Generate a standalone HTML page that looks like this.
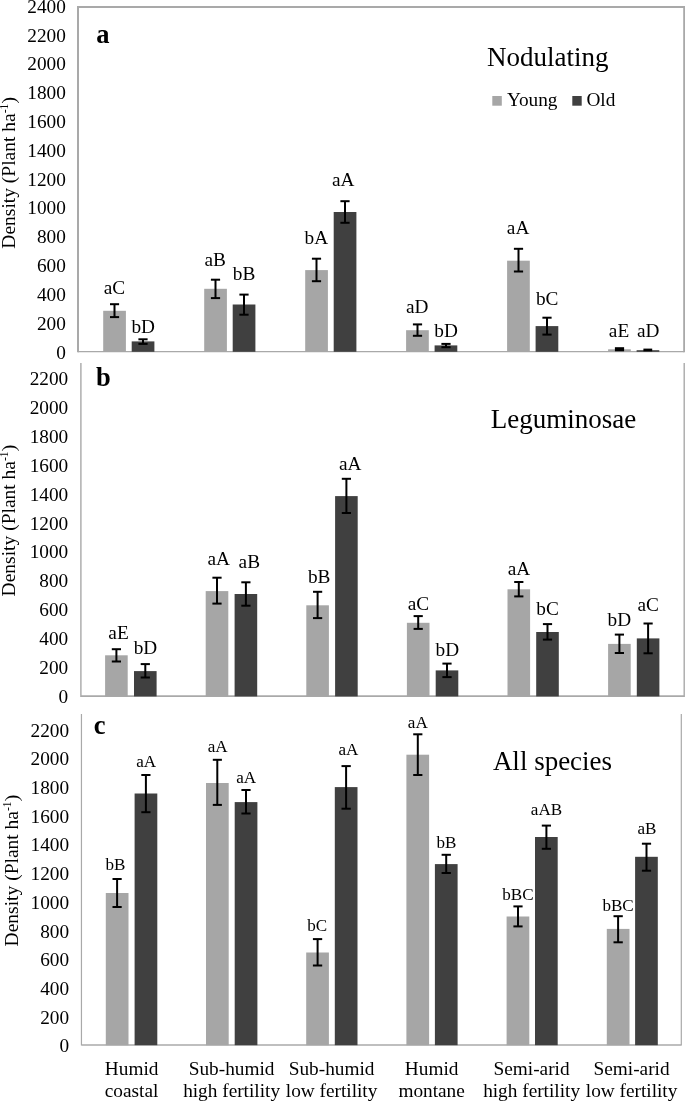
<!DOCTYPE html>
<html lang="en"><head><meta charset="utf-8"><title>Density chart</title>
<style>
html,body{margin:0;padding:0;background:#fff;}
body{width:685px;height:1101px;overflow:hidden;}
svg{display:block;will-change:transform;font-family:"Liberation Serif","Times New Roman",serif;fill:#000;}
</style></head><body>
<svg width="685" height="1101" viewBox="0 0 685 1101">
<rect width="685" height="1101" fill="#fff"/>
<path d="M81.45 714.0V1045.0H681.3V714.0" fill="none" stroke="#a9a9a9" stroke-width="1.2"/>
<text x="69.1" y="736.7" font-size="19.3" text-anchor="end">2200</text>
<text x="69.1" y="765.4" font-size="19.3" text-anchor="end">2000</text>
<text x="69.1" y="794.1" font-size="19.3" text-anchor="end">1800</text>
<text x="69.1" y="822.7" font-size="19.3" text-anchor="end">1600</text>
<text x="69.1" y="851.4" font-size="19.3" text-anchor="end">1400</text>
<text x="69.1" y="880.1" font-size="19.3" text-anchor="end">1200</text>
<text x="69.1" y="908.8" font-size="19.3" text-anchor="end">1000</text>
<text x="69.1" y="937.5" font-size="19.3" text-anchor="end">800</text>
<text x="69.1" y="966.1" font-size="19.3" text-anchor="end">600</text>
<text x="69.1" y="994.8" font-size="19.3" text-anchor="end">400</text>
<text x="69.1" y="1023.5" font-size="19.3" text-anchor="end">200</text>
<text x="69.1" y="1052.2" font-size="19.3" text-anchor="end">0</text>
<text transform="translate(17.9,870.6) rotate(-90)" font-size="19.5" text-anchor="middle">Density (Plant ha<tspan font-size="11.6" dy="-7.2">-1</tspan><tspan dy="7.2">)</tspan></text>
<line x1="81.5" y1="1045.0" x2="681.3" y2="1045.0" stroke="#a9a9a9" stroke-width="1.2"/>
<rect x="105.8" y="893.0" width="22.7" height="152.2" fill="#a6a6a6"/>
<rect x="134.6" y="793.5" width="22.7" height="251.7" fill="#404040"/>
<rect x="206.0" y="783.0" width="22.7" height="262.2" fill="#a6a6a6"/>
<rect x="234.7" y="802.1" width="22.7" height="243.1" fill="#404040"/>
<rect x="306.2" y="952.5" width="22.7" height="92.7" fill="#a6a6a6"/>
<rect x="334.8" y="787.1" width="22.7" height="258.1" fill="#404040"/>
<rect x="406.4" y="754.7" width="22.7" height="290.5" fill="#a6a6a6"/>
<rect x="434.9" y="864.1" width="22.7" height="181.1" fill="#404040"/>
<rect x="506.6" y="916.5" width="22.7" height="128.7" fill="#a6a6a6"/>
<rect x="535.0" y="837.0" width="22.7" height="208.2" fill="#404040"/>
<rect x="606.8" y="928.9" width="22.7" height="116.3" fill="#a6a6a6"/>
<rect x="635.1" y="856.8" width="22.7" height="188.4" fill="#404040"/>
<line x1="117.1" y1="879.0" x2="117.1" y2="907.0" stroke="#000" stroke-width="2"/>
<line x1="112.5" y1="879.0" x2="121.7" y2="879.0" stroke="#000" stroke-width="2"/>
<line x1="112.5" y1="907.0" x2="121.7" y2="907.0" stroke="#000" stroke-width="2"/>
<line x1="145.9" y1="775.0" x2="145.9" y2="812.2" stroke="#000" stroke-width="2"/>
<line x1="141.3" y1="775.0" x2="150.5" y2="775.0" stroke="#000" stroke-width="2"/>
<line x1="141.3" y1="812.2" x2="150.5" y2="812.2" stroke="#000" stroke-width="2"/>
<text x="115.5" y="870.1" font-size="17.1" text-anchor="middle">bB</text>
<text x="146.1" y="767.4" font-size="17.1" text-anchor="middle">aA</text>
<line x1="217.3" y1="759.8" x2="217.3" y2="804.9" stroke="#000" stroke-width="2"/>
<line x1="212.8" y1="759.8" x2="221.9" y2="759.8" stroke="#000" stroke-width="2"/>
<line x1="212.8" y1="804.9" x2="221.9" y2="804.9" stroke="#000" stroke-width="2"/>
<line x1="246.0" y1="790.0" x2="246.0" y2="813.5" stroke="#000" stroke-width="2"/>
<line x1="241.4" y1="790.0" x2="250.6" y2="790.0" stroke="#000" stroke-width="2"/>
<line x1="241.4" y1="813.5" x2="250.6" y2="813.5" stroke="#000" stroke-width="2"/>
<text x="217.6" y="751.8" font-size="17.1" text-anchor="middle">aA</text>
<text x="246.2" y="783.3" font-size="17.1" text-anchor="middle">aA</text>
<line x1="317.6" y1="939.1" x2="317.6" y2="965.5" stroke="#000" stroke-width="2"/>
<line x1="312.9" y1="939.1" x2="322.2" y2="939.1" stroke="#000" stroke-width="2"/>
<line x1="312.9" y1="965.5" x2="322.2" y2="965.5" stroke="#000" stroke-width="2"/>
<line x1="346.1" y1="766.1" x2="346.1" y2="808.7" stroke="#000" stroke-width="2"/>
<line x1="341.5" y1="766.1" x2="350.8" y2="766.1" stroke="#000" stroke-width="2"/>
<line x1="341.5" y1="808.7" x2="350.8" y2="808.7" stroke="#000" stroke-width="2"/>
<text x="317.3" y="931.2" font-size="17.1" text-anchor="middle">bC</text>
<text x="348.4" y="754.7" font-size="17.1" text-anchor="middle">aA</text>
<line x1="417.8" y1="734.3" x2="417.8" y2="775.0" stroke="#000" stroke-width="2"/>
<line x1="413.2" y1="734.3" x2="422.4" y2="734.3" stroke="#000" stroke-width="2"/>
<line x1="413.2" y1="775.0" x2="422.4" y2="775.0" stroke="#000" stroke-width="2"/>
<line x1="446.2" y1="854.8" x2="446.2" y2="873.0" stroke="#000" stroke-width="2"/>
<line x1="441.6" y1="854.8" x2="450.9" y2="854.8" stroke="#000" stroke-width="2"/>
<line x1="441.6" y1="873.0" x2="450.9" y2="873.0" stroke="#000" stroke-width="2"/>
<text x="417.8" y="728.0" font-size="17.1" text-anchor="middle">aA</text>
<text x="446.4" y="847.9" font-size="17.1" text-anchor="middle">bB</text>
<line x1="518.0" y1="906.4" x2="518.0" y2="926.4" stroke="#000" stroke-width="2"/>
<line x1="513.4" y1="906.4" x2="522.6" y2="906.4" stroke="#000" stroke-width="2"/>
<line x1="513.4" y1="926.4" x2="522.6" y2="926.4" stroke="#000" stroke-width="2"/>
<line x1="546.4" y1="825.6" x2="546.4" y2="848.8" stroke="#000" stroke-width="2"/>
<line x1="541.8" y1="825.6" x2="551.0" y2="825.6" stroke="#000" stroke-width="2"/>
<line x1="541.8" y1="848.8" x2="551.0" y2="848.8" stroke="#000" stroke-width="2"/>
<text x="517.9" y="900.3" font-size="17.1" text-anchor="middle">bBC</text>
<text x="546.5" y="815.1" font-size="17.1" text-anchor="middle">aAB</text>
<line x1="618.1" y1="916.2" x2="618.1" y2="942.3" stroke="#000" stroke-width="2"/>
<line x1="613.5" y1="916.2" x2="622.8" y2="916.2" stroke="#000" stroke-width="2"/>
<line x1="613.5" y1="942.3" x2="622.8" y2="942.3" stroke="#000" stroke-width="2"/>
<line x1="646.5" y1="843.7" x2="646.5" y2="870.7" stroke="#000" stroke-width="2"/>
<line x1="641.9" y1="843.7" x2="651.1" y2="843.7" stroke="#000" stroke-width="2"/>
<line x1="641.9" y1="870.7" x2="651.1" y2="870.7" stroke="#000" stroke-width="2"/>
<text x="618.1" y="910.8" font-size="17.1" text-anchor="middle">bBC</text>
<text x="646.9" y="834.2" font-size="17.1" text-anchor="middle">aB</text>
<text x="93.8" y="733.8" font-size="26.5" text-anchor="start" font-weight="bold">c</text>
<text x="552.5" y="770.0" font-size="27" text-anchor="middle">All species</text>
<path d="M80.9 363.0V696.2H684.2V363.0" fill="none" stroke="#a9a9a9" stroke-width="1.4"/>
<text x="68.2" y="385.2" font-size="19.3" text-anchor="end">2200</text>
<text x="68.2" y="414.1" font-size="19.3" text-anchor="end">2000</text>
<text x="68.2" y="442.9" font-size="19.3" text-anchor="end">1800</text>
<text x="68.2" y="471.8" font-size="19.3" text-anchor="end">1600</text>
<text x="68.2" y="500.6" font-size="19.3" text-anchor="end">1400</text>
<text x="68.2" y="529.5" font-size="19.3" text-anchor="end">1200</text>
<text x="68.2" y="558.3" font-size="19.3" text-anchor="end">1000</text>
<text x="68.2" y="587.1" font-size="19.3" text-anchor="end">800</text>
<text x="68.2" y="616.0" font-size="19.3" text-anchor="end">600</text>
<text x="68.2" y="644.9" font-size="19.3" text-anchor="end">400</text>
<text x="68.2" y="673.7" font-size="19.3" text-anchor="end">200</text>
<text x="68.2" y="702.5" font-size="19.3" text-anchor="end">0</text>
<text transform="translate(15.1,520.6) rotate(-90)" font-size="19.5" text-anchor="middle">Density (Plant ha<tspan font-size="11.6" dy="-7.2">-1</tspan><tspan dy="7.2">)</tspan></text>
<line x1="80.9" y1="696.2" x2="684.2" y2="696.2" stroke="#a9a9a9" stroke-width="1.4"/>
<rect x="105.1" y="655.3" width="22.6" height="41.1" fill="#a6a6a6"/>
<rect x="134.0" y="671.1" width="22.6" height="25.3" fill="#404040"/>
<rect x="205.7" y="591.1" width="22.6" height="105.3" fill="#a6a6a6"/>
<rect x="234.6" y="594.0" width="22.6" height="102.4" fill="#404040"/>
<rect x="306.3" y="605.3" width="22.6" height="91.1" fill="#a6a6a6"/>
<rect x="335.1" y="496.1" width="22.6" height="200.3" fill="#404040"/>
<rect x="406.9" y="622.8" width="22.6" height="73.6" fill="#a6a6a6"/>
<rect x="435.7" y="670.4" width="22.6" height="26.0" fill="#404040"/>
<rect x="507.5" y="589.3" width="22.6" height="107.1" fill="#a6a6a6"/>
<rect x="536.2" y="632.0" width="22.6" height="64.4" fill="#404040"/>
<rect x="608.1" y="643.9" width="22.6" height="52.5" fill="#a6a6a6"/>
<rect x="636.8" y="638.4" width="22.6" height="58.0" fill="#404040"/>
<line x1="116.4" y1="649.2" x2="116.4" y2="661.5" stroke="#000" stroke-width="2"/>
<line x1="111.8" y1="649.2" x2="121.0" y2="649.2" stroke="#000" stroke-width="2"/>
<line x1="111.8" y1="661.5" x2="121.0" y2="661.5" stroke="#000" stroke-width="2"/>
<line x1="145.3" y1="664.1" x2="145.3" y2="677.5" stroke="#000" stroke-width="2"/>
<line x1="140.7" y1="664.1" x2="149.9" y2="664.1" stroke="#000" stroke-width="2"/>
<line x1="140.7" y1="677.5" x2="149.9" y2="677.5" stroke="#000" stroke-width="2"/>
<text x="118.5" y="638.7" font-size="19.3" text-anchor="middle">aE</text>
<text x="145.5" y="654.2" font-size="19.3" text-anchor="middle">bD</text>
<line x1="217.0" y1="577.7" x2="217.0" y2="603.6" stroke="#000" stroke-width="2"/>
<line x1="212.4" y1="577.7" x2="221.6" y2="577.7" stroke="#000" stroke-width="2"/>
<line x1="212.4" y1="603.6" x2="221.6" y2="603.6" stroke="#000" stroke-width="2"/>
<line x1="245.9" y1="582.3" x2="245.9" y2="605.7" stroke="#000" stroke-width="2"/>
<line x1="241.3" y1="582.3" x2="250.5" y2="582.3" stroke="#000" stroke-width="2"/>
<line x1="241.3" y1="605.7" x2="250.5" y2="605.7" stroke="#000" stroke-width="2"/>
<text x="218.8" y="564.8" font-size="19.3" text-anchor="middle">aA</text>
<text x="249.3" y="567.7" font-size="19.3" text-anchor="middle">aB</text>
<line x1="317.6" y1="591.8" x2="317.6" y2="618.1" stroke="#000" stroke-width="2"/>
<line x1="313.0" y1="591.8" x2="322.2" y2="591.8" stroke="#000" stroke-width="2"/>
<line x1="313.0" y1="618.1" x2="322.2" y2="618.1" stroke="#000" stroke-width="2"/>
<line x1="346.4" y1="478.8" x2="346.4" y2="513.0" stroke="#000" stroke-width="2"/>
<line x1="341.8" y1="478.8" x2="351.0" y2="478.8" stroke="#000" stroke-width="2"/>
<line x1="341.8" y1="513.0" x2="351.0" y2="513.0" stroke="#000" stroke-width="2"/>
<text x="319.2" y="583.1" font-size="19.3" text-anchor="middle">bB</text>
<text x="350.2" y="470.1" font-size="19.3" text-anchor="middle">aA</text>
<line x1="418.2" y1="616.1" x2="418.2" y2="628.9" stroke="#000" stroke-width="2"/>
<line x1="413.6" y1="616.1" x2="422.8" y2="616.1" stroke="#000" stroke-width="2"/>
<line x1="413.6" y1="628.9" x2="422.8" y2="628.9" stroke="#000" stroke-width="2"/>
<line x1="447.0" y1="663.6" x2="447.0" y2="677.1" stroke="#000" stroke-width="2"/>
<line x1="442.4" y1="663.6" x2="451.6" y2="663.6" stroke="#000" stroke-width="2"/>
<line x1="442.4" y1="677.1" x2="451.6" y2="677.1" stroke="#000" stroke-width="2"/>
<text x="418.4" y="609.9" font-size="19.3" text-anchor="middle">aC</text>
<text x="447.3" y="656.1" font-size="19.3" text-anchor="middle">bD</text>
<line x1="518.8" y1="582.0" x2="518.8" y2="596.4" stroke="#000" stroke-width="2"/>
<line x1="514.2" y1="582.0" x2="523.4" y2="582.0" stroke="#000" stroke-width="2"/>
<line x1="514.2" y1="596.4" x2="523.4" y2="596.4" stroke="#000" stroke-width="2"/>
<line x1="547.5" y1="624.1" x2="547.5" y2="639.6" stroke="#000" stroke-width="2"/>
<line x1="542.9" y1="624.1" x2="552.1" y2="624.1" stroke="#000" stroke-width="2"/>
<line x1="542.9" y1="639.6" x2="552.1" y2="639.6" stroke="#000" stroke-width="2"/>
<text x="519.0" y="574.5" font-size="19.3" text-anchor="middle">aA</text>
<text x="547.5" y="614.7" font-size="19.3" text-anchor="middle">bC</text>
<line x1="619.4" y1="634.6" x2="619.4" y2="653.0" stroke="#000" stroke-width="2"/>
<line x1="614.8" y1="634.6" x2="624.0" y2="634.6" stroke="#000" stroke-width="2"/>
<line x1="614.8" y1="653.0" x2="624.0" y2="653.0" stroke="#000" stroke-width="2"/>
<line x1="648.1" y1="623.5" x2="648.1" y2="653.3" stroke="#000" stroke-width="2"/>
<line x1="643.5" y1="623.5" x2="652.7" y2="623.5" stroke="#000" stroke-width="2"/>
<line x1="643.5" y1="653.3" x2="652.7" y2="653.3" stroke="#000" stroke-width="2"/>
<text x="619.3" y="625.5" font-size="19.3" text-anchor="middle">bD</text>
<text x="648.2" y="610.9" font-size="19.3" text-anchor="middle">aC</text>
<text x="96.0" y="386.3" font-size="26.5" text-anchor="start" font-weight="bold">b</text>
<text x="563.4" y="427.6" font-size="27" text-anchor="middle">Leguminosae</text>
<rect x="78.0" y="7.0" width="606.2" height="344.6" fill="#fff"/>
<line x1="78.0" y1="6.0" x2="78.0" y2="352.2" stroke="#a9a9a9" stroke-width="2"/>
<line x1="77.0" y1="7.0" x2="685.2" y2="7.0" stroke="#a9a9a9" stroke-width="2"/>
<line x1="684.2" y1="6.0" x2="684.2" y2="352.2" stroke="#a9a9a9" stroke-width="2"/>
<text x="65.8" y="12.7" font-size="19.3" text-anchor="end">2400</text>
<text x="65.8" y="41.5" font-size="19.3" text-anchor="end">2200</text>
<text x="65.8" y="70.3" font-size="19.3" text-anchor="end">2000</text>
<text x="65.8" y="99.1" font-size="19.3" text-anchor="end">1800</text>
<text x="65.8" y="127.9" font-size="19.3" text-anchor="end">1600</text>
<text x="65.8" y="156.8" font-size="19.3" text-anchor="end">1400</text>
<text x="65.8" y="185.6" font-size="19.3" text-anchor="end">1200</text>
<text x="65.8" y="214.4" font-size="19.3" text-anchor="end">1000</text>
<text x="65.8" y="243.2" font-size="19.3" text-anchor="end">800</text>
<text x="65.8" y="272.0" font-size="19.3" text-anchor="end">600</text>
<text x="65.8" y="300.8" font-size="19.3" text-anchor="end">400</text>
<text x="65.8" y="329.7" font-size="19.3" text-anchor="end">200</text>
<text x="65.8" y="358.5" font-size="19.3" text-anchor="end">0</text>
<text transform="translate(14.9,172.9) rotate(-90)" font-size="19.5" text-anchor="middle">Density (Plant ha<tspan font-size="11.6" dy="-7.2">-1</tspan><tspan dy="7.2">)</tspan></text>
<line x1="78.0" y1="351.6" x2="684.2" y2="351.6" stroke="#a9a9a9" stroke-width="1.3"/>
<rect x="103.2" y="310.8" width="22.7" height="41.0" fill="#a6a6a6"/>
<rect x="131.7" y="341.4" width="22.7" height="10.4" fill="#404040"/>
<rect x="204.2" y="288.8" width="22.7" height="63.0" fill="#a6a6a6"/>
<rect x="232.7" y="304.5" width="22.7" height="47.3" fill="#404040"/>
<rect x="305.2" y="270.1" width="22.7" height="81.7" fill="#a6a6a6"/>
<rect x="333.7" y="212.0" width="22.7" height="139.8" fill="#404040"/>
<rect x="406.1" y="330.2" width="22.7" height="21.6" fill="#a6a6a6"/>
<rect x="434.6" y="345.4" width="22.7" height="6.4" fill="#404040"/>
<rect x="507.1" y="260.7" width="22.7" height="91.1" fill="#a6a6a6"/>
<rect x="535.6" y="326.1" width="22.7" height="25.7" fill="#404040"/>
<rect x="608.1" y="349.3" width="22.7" height="2.5" fill="#a6a6a6"/>
<rect x="636.6" y="350.2" width="22.7" height="1.6" fill="#404040"/>
<line x1="114.5" y1="304.2" x2="114.5" y2="317.1" stroke="#000" stroke-width="2"/>
<line x1="110.0" y1="304.2" x2="119.1" y2="304.2" stroke="#000" stroke-width="2"/>
<line x1="110.0" y1="317.1" x2="119.1" y2="317.1" stroke="#000" stroke-width="2"/>
<line x1="143.0" y1="339.3" x2="143.0" y2="343.9" stroke="#000" stroke-width="2"/>
<line x1="138.4" y1="339.3" x2="147.6" y2="339.3" stroke="#000" stroke-width="2"/>
<line x1="138.4" y1="343.9" x2="147.6" y2="343.9" stroke="#000" stroke-width="2"/>
<text x="114.4" y="294.2" font-size="19.3" text-anchor="middle">aC</text>
<text x="143.2" y="333.1" font-size="19.3" text-anchor="middle">bD</text>
<line x1="215.5" y1="279.7" x2="215.5" y2="298.1" stroke="#000" stroke-width="2"/>
<line x1="210.9" y1="279.7" x2="220.1" y2="279.7" stroke="#000" stroke-width="2"/>
<line x1="210.9" y1="298.1" x2="220.1" y2="298.1" stroke="#000" stroke-width="2"/>
<line x1="244.0" y1="294.6" x2="244.0" y2="314.7" stroke="#000" stroke-width="2"/>
<line x1="239.4" y1="294.6" x2="248.6" y2="294.6" stroke="#000" stroke-width="2"/>
<line x1="239.4" y1="314.7" x2="248.6" y2="314.7" stroke="#000" stroke-width="2"/>
<text x="215.1" y="265.7" font-size="19.3" text-anchor="middle">aB</text>
<text x="244.0" y="279.7" font-size="19.3" text-anchor="middle">bB</text>
<line x1="316.5" y1="258.7" x2="316.5" y2="281.2" stroke="#000" stroke-width="2"/>
<line x1="311.9" y1="258.7" x2="321.1" y2="258.7" stroke="#000" stroke-width="2"/>
<line x1="311.9" y1="281.2" x2="321.1" y2="281.2" stroke="#000" stroke-width="2"/>
<line x1="345.0" y1="201.2" x2="345.0" y2="222.8" stroke="#000" stroke-width="2"/>
<line x1="340.4" y1="201.2" x2="349.6" y2="201.2" stroke="#000" stroke-width="2"/>
<line x1="340.4" y1="222.8" x2="349.6" y2="222.8" stroke="#000" stroke-width="2"/>
<text x="316.3" y="243.8" font-size="19.3" text-anchor="middle">bA</text>
<text x="343.3" y="185.7" font-size="19.3" text-anchor="middle">aA</text>
<line x1="417.5" y1="324.4" x2="417.5" y2="335.8" stroke="#000" stroke-width="2"/>
<line x1="412.9" y1="324.4" x2="422.1" y2="324.4" stroke="#000" stroke-width="2"/>
<line x1="412.9" y1="335.8" x2="422.1" y2="335.8" stroke="#000" stroke-width="2"/>
<line x1="446.0" y1="343.9" x2="446.0" y2="347.2" stroke="#000" stroke-width="2"/>
<line x1="441.4" y1="343.9" x2="450.6" y2="343.9" stroke="#000" stroke-width="2"/>
<line x1="441.4" y1="347.2" x2="450.6" y2="347.2" stroke="#000" stroke-width="2"/>
<text x="417.3" y="313.3" font-size="19.3" text-anchor="middle">aD</text>
<text x="446.1" y="336.8" font-size="19.3" text-anchor="middle">bD</text>
<line x1="518.5" y1="248.8" x2="518.5" y2="271.5" stroke="#000" stroke-width="2"/>
<line x1="513.9" y1="248.8" x2="523.1" y2="248.8" stroke="#000" stroke-width="2"/>
<line x1="513.9" y1="271.5" x2="523.1" y2="271.5" stroke="#000" stroke-width="2"/>
<line x1="547.0" y1="317.7" x2="547.0" y2="334.6" stroke="#000" stroke-width="2"/>
<line x1="542.4" y1="317.7" x2="551.6" y2="317.7" stroke="#000" stroke-width="2"/>
<line x1="542.4" y1="334.6" x2="551.6" y2="334.6" stroke="#000" stroke-width="2"/>
<text x="518.1" y="233.9" font-size="19.3" text-anchor="middle">aA</text>
<text x="547.2" y="305.1" font-size="19.3" text-anchor="middle">bC</text>
<text x="619.0" y="336.5" font-size="19.3" text-anchor="middle">aE</text>
<text x="648.2" y="336.9" font-size="19.3" text-anchor="middle">aD</text>
<text x="96.2" y="43.0" font-size="26.5" text-anchor="start" font-weight="bold">a</text>
<text x="547.7" y="65.5" font-size="27" text-anchor="middle">Nodulating</text>
<rect x="614.9" y="347.2" width="9.2" height="4.1" fill="#000"/>
<rect x="643.4" y="348.6" width="8.8" height="2.7" fill="#000"/>
<rect x="492.3" y="96.0" width="9.5" height="9.7" fill="#a6a6a6"/>
<text x="506.9" y="106.1" font-size="19.3" text-anchor="start">Young</text>
<rect x="572.3" y="96.0" width="9.4" height="9.7" fill="#404040"/>
<text x="586.4" y="106.1" font-size="19.3" text-anchor="start">Old</text>
<text x="131.6" y="1074.7" font-size="19.3" text-anchor="middle">Humid</text>
<text x="131.6" y="1096.5" font-size="19.3" text-anchor="middle">coastal</text>
<text x="231.6" y="1074.7" font-size="19.3" text-anchor="middle">Sub-humid</text>
<text x="231.6" y="1096.5" font-size="19.3" text-anchor="middle">high fertility</text>
<text x="331.6" y="1074.7" font-size="19.3" text-anchor="middle">Sub-humid</text>
<text x="331.6" y="1096.5" font-size="19.3" text-anchor="middle">low fertility</text>
<text x="431.6" y="1074.7" font-size="19.3" text-anchor="middle">Humid</text>
<text x="431.6" y="1096.5" font-size="19.3" text-anchor="middle">montane</text>
<text x="531.6" y="1074.7" font-size="19.3" text-anchor="middle">Semi-arid</text>
<text x="531.6" y="1096.5" font-size="19.3" text-anchor="middle">high fertility</text>
<text x="631.6" y="1074.7" font-size="19.3" text-anchor="middle">Semi-arid</text>
<text x="631.6" y="1096.5" font-size="19.3" text-anchor="middle">low fertility</text>
</svg>
</body></html>
